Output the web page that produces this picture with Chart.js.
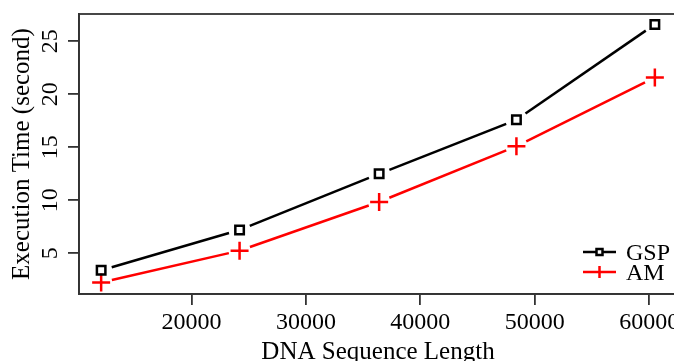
<!DOCTYPE html>
<html>
<head>
<meta charset="utf-8">
<script src="https://cdn.jsdelivr.net/npm/chart.js@4.4.0/dist/chart.umd.min.js"></script>
<style>
    html, body { margin: 0; padding: 0; background: #fff; overflow: hidden; }
    #wrap { width: 690px; height: 368px; }
</style>
</head>
<body>
<div id="wrap"><canvas id="chart" width="690" height="368"></canvas></div>
<script>
// Data
const seqLength = [12100, 24200, 36400, 48400, 60500];
const gspTime = [3.4, 7.2, 12.5, 17.6, 26.6];
const amTime = [2.25, 5.25, 9.85, 15.1, 21.6];
const xTicks = [20000, 30000, 40000, 50000, 60000];
const yTicks = [5, 10, 15, 20, 25];

const serif = "'Liberation Serif', 'Times New Roman', serif";
const axisColor = '#333';

function toPoints(xs, ys) {
    return xs.map((x, i) => ({ x: x, y: ys[i] }));
}

// R style "b" lines: segments with a gap around each marker
const gapLines = {
    id: 'gapLines',
    beforeDatasetsDraw(chart) {
        const ctx = chart.ctx;
        const gap = 11;
        chart.data.datasets.forEach((ds, i) => {
            const pts = chart.getDatasetMeta(i).data;
            ctx.save();
            ctx.strokeStyle = ds.borderColor;
            ctx.lineWidth = 2.5;
            for (let k = 0; k < pts.length - 1; k++) {
                const a = pts[k], b = pts[k + 1];
                const dx = b.x - a.x, dy = b.y - a.y;
                const len = Math.sqrt(dx * dx + dy * dy);
                if (len <= 2 * gap) continue;
                const ux = dx / len, uy = dy / len;
                ctx.beginPath();
                ctx.moveTo(a.x + ux * gap, a.y + uy * gap);
                ctx.lineTo(b.x - ux * gap, b.y - uy * gap);
                ctx.stroke();
            }
            ctx.restore();
        });
    }
};

// box around the plot + legend inside bottom right
const boxAndLegend = {
    id: 'boxAndLegend',
    afterDraw(chart) {
        const ctx = chart.ctx;
        const area = chart.chartArea;
        ctx.save();
        ctx.strokeStyle = axisColor;
        ctx.lineWidth = 1.8;
        ctx.strokeRect(area.left, area.top, area.right - area.left, area.bottom - area.top);

        const x0 = area.right - 94, x1 = area.right - 61;
        const xm = (x0 + x1) / 2;
        const rows = [area.bottom - 42, area.bottom - 22];
        ctx.font = '24px ' + serif;
        ctx.textBaseline = 'middle';
        ctx.textAlign = 'left';
        chart.data.datasets.forEach((ds, i) => {
            const y = rows[i];
            ctx.strokeStyle = ds.borderColor;
            ctx.lineWidth = 2.5;
            ctx.beginPath();
            ctx.moveTo(x0, y);
            ctx.lineTo(x1, y);
            ctx.stroke();
            if (ds.pointStyle === 'rect') {
                ctx.fillStyle = '#fff';
                ctx.fillRect(xm - 3, y - 3, 6, 6);
                ctx.strokeRect(xm - 3, y - 3, 6, 6);
            } else {
                ctx.beginPath();
                ctx.moveTo(xm, y - 6);
                ctx.lineTo(xm, y + 6);
                ctx.stroke();
            }
            ctx.fillStyle = '#000';
            ctx.fillText(ds.label, x1 + 10, y + 2);
        });
        ctx.restore();
    }
};

new Chart(document.getElementById('chart'), {
    type: 'line',
    data: {
        datasets: [
            {
                label: 'GSP',
                data: toPoints(seqLength, gspTime),
                borderColor: '#000',
                showLine: false,
                pointStyle: 'rect',
                pointRadius: 6,
                pointBorderWidth: 2.5,
                pointBackgroundColor: 'rgba(255,255,255,0)',
                pointBorderColor: '#000'
            },
            {
                label: 'AM',
                data: toPoints(seqLength, amTime),
                borderColor: '#ff0000',
                showLine: false,
                pointStyle: 'cross',
                pointRadius: 9,
                pointBorderWidth: 2.5,
                pointBorderColor: '#ff0000'
            }
        ]
    },
    options: {
        responsive: false,
        animation: false,
        layout: { padding: { top: 14, right: 13, left: 0, bottom: 0 } },
        plugins: {
            legend: { display: false },
            tooltip: { enabled: false }
        },
        scales: {
            x: {
                type: 'linear',
                min: 10164,
                max: 62436,
                afterFit: function(scale) {
                    scale.height = 74;
                    scale.paddingLeft = 0;
                    scale.paddingRight = 0;
                },
                afterBuildTicks: function(scale) {
                    scale.ticks = xTicks.map(v => ({ value: v }));
                },
                grid: {
                    display: true,
                    drawOnChartArea: false,
                    drawTicks: true,
                    tickLength: 11,
                    color: axisColor,
                    lineWidth: 1.8
                },
                border: { display: true, color: axisColor, width: 1.8 },
                ticks: {
                    color: '#000',
                    font: { family: serif, size: 24 },
                    padding: 3,
                    maxRotation: 0,
                    autoSkip: false,
                    callback: v => String(v)
                },
                title: {
                    display: true,
                    text: 'DNA Sequence Length',
                    color: '#000',
                    font: { family: serif, size: 25 },
                    padding: { top: 0, bottom: 1 }
                }
            },
            y: {
                type: 'linear',
                min: 1.16,
                max: 27.58,
                afterFit: function(scale) {
                    scale.width = 79;
                    scale.paddingTop = 0;
                    scale.paddingBottom = 0;
                },
                afterBuildTicks: function(scale) {
                    scale.ticks = yTicks.map(v => ({ value: v }));
                },
                grid: {
                    display: true,
                    drawOnChartArea: false,
                    drawTicks: true,
                    tickLength: 11,
                    color: axisColor,
                    lineWidth: 1.8
                },
                border: { display: true, color: axisColor, width: 1.8 },
                ticks: {
                    color: '#000',
                    font: { family: serif, size: 24 },
                    padding: 5,
                    minRotation: 90,
                    maxRotation: 90,
                    crossAlign: 'center',
                    autoSkip: false,
                    callback: v => String(v)
                },
                title: {
                    display: true,
                    text: 'Execution Time (second)',
                    color: '#000',
                    font: { family: serif, size: 25 },
                    padding: { top: 7, bottom: 0 }
                }
            }
        }
    },
    plugins: [gapLines, boxAndLegend]
});
</script>
</body>
</html>
